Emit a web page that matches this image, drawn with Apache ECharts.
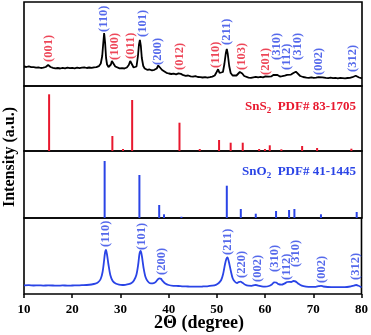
<!DOCTYPE html>
<html><head><meta charset="utf-8">
<script src="https://cdn.jsdelivr.net/npm/echarts@6/dist/echarts.min.js"></script>
<style>html,body{margin:0;padding:0;background:#fff}#c{width:371px;height:335px}</style>
</head><body><div id="c"></div>
<script>
// ---------- data ----------
const xTicks = [10, 20, 30, 40, 50, 60, 70, 80];

// top panel: measured XRD pattern (a.u.)
const topTheta = [10,10.5,11,11.5,12,12.5,13,13.5,14,14.5,14.8,15,15.2,15.5,16,16.5,17,17.5,18,18.5,19,19.5,20,20.5,21,21.5,22,22.5,23,23.5,24,24.5,25,25.5,25.9,26.2,26.4,26.6,26.8,27,27.2,27.5,27.8,28,28.2,28.4,28.6,28.9,29.3,29.8,30.3,30.8,31.3,31.7,32,32.2,32.4,32.7,33,33.3,33.6,33.8,34,34.2,34.4,34.7,35,35.5,36,36.5,37,37.5,37.8,38,38.2,38.6,39,39.5,40,40.5,41,41.5,42,42.2,42.5,43,43.5,44,44.5,45,45.5,46,46.5,47,47.5,48,48.5,49,49.5,49.9,50.2,50.5,50.8,51.2,51.5,51.8,52,52.2,52.5,52.8,53.2,53.6,54,54.4,54.7,54.9,55.2,55.6,56,56.5,57,57.5,58,58.5,59,59.5,60,60.3,60.7,61.2,61.7,62.1,62.5,63,63.5,64,64.5,64.9,65.3,65.8,66.3,66.7,67.2,67.8,68.5,69,69.5,70,70.5,71,71.4,71.8,72.5,73,73.5,74,74.5,75,75.5,76,76.5,77,77.5,78,78.4,78.7,79,79.4,80];
const topInt = [19.5,19.0,19.6,18.9,18.8,18.4,18.6,18.0,18.3,19.0,20.3,21.0,20.6,19.0,18.2,17.6,18.0,17.5,18.1,17.6,18.3,17.8,18.2,17.7,18.4,17.9,18.3,18.6,18.0,18.5,18.1,18.7,18.8,19.8,22.5,30,42,53,43,28,21.5,19,19.5,21.5,25,26,23,19.5,18.2,17.6,17.9,17.5,18.5,21,25,26,23.5,18.5,17,19.5,30,41,46,40,28,20,17.5,16.2,16.5,15.6,16.2,17.5,20.5,21,19.5,16,14,13.2,12.5,12.0,12.4,11.6,12.6,13.0,12.1,10.8,10.2,10.5,9.6,9.3,9.8,9.0,8.9,8.5,8.9,8.4,8.8,9.4,10.5,14,16.7,13,11.5,14,22,33,37,32,20,13,10.5,10,10.5,12,14,14.3,12.5,10,9,8.4,8.2,8.7,9.2,8.6,9.1,8.7,9.6,10.1,9.3,9.6,11.2,12.7,11,9.5,9.8,10.4,11.2,11.8,11.4,13,14.3,12.4,10,9,8.4,8.2,8.6,8.1,8.3,8.8,9.4,8.7,8.1,7.9,8.3,7.8,8.2,7.7,8.1,7.9,7.6,8.0,8.2,8.8,9.7,10.3,9.6,8.5,7.7];

// top panel peak labels
const topLabTheta = [15.2, 26.6, 28.8, 32.1, 34.6, 37.8, 42.3, 49.75, 52.0, 55.1, 60.1, 62.3, 64.5, 66.8, 71.1, 78.0];
const topLabLevel = [24, 54, 26, 27, 49, 21, 16, 18, 41, 16, 11, 26, 16, 26, 11, 14];
const topLabText = ['(001)','(110)','(100)','(011)','(101)','(200)','(012)','(110)','(211)','(103)','(201)','(310)','(112)','(310)','(002)','(312)'];
const topLabPhase = ['SnS2','SnO2','SnS2','SnS2','SnO2','SnO2','SnS2','SnS2','SnO2','SnS2','SnS2','SnO2','SnO2','SnO2','SnO2','SnO2'];

// SnS2 PDF# 83-1705 reference sticks
const sns2Theta = [15.2, 28.3, 30.5, 32.4, 42.2, 46.4, 50.4, 52.8, 55.3, 58.7, 59.9, 60.9, 63.3, 67.6, 70.7, 77.8];
const sns2Int = [56.7, 15, 2, 51, 28.3, 2, 11, 8.3, 8.3, 2, 2, 5.7, 1.7, 5, 3, 2.3];

// SnO2 PDF# 41-1445 reference sticks
const sno2Theta = [26.7, 33.9, 38.0, 39.0, 42.6, 52.0, 54.9, 58.0, 62.2, 64.9, 66.0, 71.5, 78.9];
const sno2Int = [57, 43, 13, 3.7, 1.3, 32.3, 9, 4.3, 7, 8, 9, 3.7, 6];

// bottom panel: measured XRD pattern (a.u.)
const botTheta = [10,11,12,13,14,15,16,17,18,19,20,21,22,23,24,24.8,25.4,25.9,26.3,26.6,26.8,27,27.2,27.5,27.9,28.4,29,29.7,30.4,31,31.7,32.3,32.8,33.3,33.7,33.95,34.2,34.45,34.8,35.2,35.7,36.3,36.9,37.4,37.8,38.1,38.4,38.8,39.3,40,41,42,43,44,45,46,47,48,49,49.8,50.4,50.9,51.3,51.7,52,52.2,52.5,52.9,53.3,53.8,54.2,54.5,54.9,55.3,55.9,56.5,57.2,57.8,58.1,58.6,59.3,60,60.8,61.4,61.9,62.3,62.8,63.4,64,64.6,65,65.4,65.9,66.3,66.9,67.6,68.5,69.5,70.5,71.1,71.6,72.1,73,74,75,76,77,77.8,78.4,78.9,79.4,80];
const botInt = [8.7,8.8,8.5,8.7,8.4,8.6,8.5,8.3,8.6,8.4,8.5,8.6,8.8,9.0,9.5,10.3,11.8,15,22,33,41,44,40,30,19,13,10.5,9.4,9.0,9.2,9.8,11,13.5,19,30,40,43,38,26,17,12.5,10.6,10.8,12.5,14.8,15.7,15.2,12.8,10.5,9.0,8.2,8.0,7.6,7.5,7.3,7.4,7.5,7.7,8.3,9.2,11,14,20,30,35.5,36.7,32,23,15.5,12,11,11.8,12.3,11.3,9.2,8.3,8.2,8.9,9.0,8.4,7.6,7.4,8.0,9.6,11.7,11.5,9.8,9.3,10.4,12.0,12.2,12.0,13.0,12.6,10.3,8.3,7.4,7.1,7.2,7.8,8.2,7.5,7.0,6.9,6.8,6.8,7.0,7.6,8.4,9.0,8.2,6.6];

// bottom panel peak labels
const botLabTheta = [27.0, 34.4, 38.5, 52.3, 55.1, 58.5, 62.0, 64.4, 66.3, 71.8, 78.9];
const botLabLevel = [47, 44, 19, 39, 16, 12, 22, 14, 27, 11, 14];
const botLabText = ['(110)','(101)','(200)','(211)','(220)','(002)','(310)','(112)','(310)','(002)','(312)'];

// ---------- styling ----------
const RED = '#e8182e';
const BLUE = '#2a44e6';
const SERIF = "'Liberation Serif','Times New Roman',serif";

const zip = (a, b) => a.map((v, i) => [v, b[i]]);

const grids = [
  {left: 24, right: 9, top: 2, height: 84},
  {left: 24, right: 9, top: 86, height: 65},
  {left: 24, right: 9, top: 151, height: 67},
  {left: 24, right: 9, top: 218, height: 76}
].map(g => Object.assign(g, {show: true, borderColor: '#000', borderWidth: 1.6, backgroundColor: 'transparent'}));

const yMax = [84, 65, 67, 76];

const xAxes = grids.map((g, i) => ({
  type: 'value', gridIndex: i, min: 10, max: 80, interval: 10,
  splitLine: {show: false},
  axisLine: {show: false},
  axisTick: {show: i === 3, inside: false, length: 4, lineStyle: {color: '#000', width: 1.5}},
  axisLabel: {show: i === 3, margin: 9, color: '#000', fontFamily: SERIF, fontWeight: 'bold', fontSize: 13,
              formatter: v => xTicks.includes(v) ? String(v) : ''}
}));
const yAxes = grids.map((g, i) => ({
  type: 'value', gridIndex: i, min: 0, max: yMax[i], show: false
}));

function labelSeries(gi, theta, level, text, colors) {
  return {
    type: 'scatter', xAxisIndex: gi, yAxisIndex: gi, symbolSize: 1,
    itemStyle: {color: 'rgba(0,0,0,0)'}, silent: true, z: 5,
    data: theta.map((t, i) => ({
      value: [t, level[i]], name: text[i],
      label: {color: colors[i]}
    })),
    label: {
      show: true, position: 'inside', rotate: 90, align: 'left', verticalAlign: 'middle',
      formatter: p => p.name, fontFamily: SERIF, fontWeight: 'bold', fontSize: 12.5
    }
  };
}

const option = {
  animation: false,
  grid: grids,
  xAxis: xAxes,
  yAxis: yAxes,
  series: [
    {type: 'line', xAxisIndex: 0, yAxisIndex: 0, data: zip(topTheta, topInt), symbol: 'none',
     lineStyle: {color: '#000', width: 1.8}},
    labelSeries(0, topLabTheta, topLabLevel, topLabText, topLabPhase.map(p => p === 'SnS2' ? RED : BLUE)),
    {type: 'bar', xAxisIndex: 1, yAxisIndex: 1, data: zip(sns2Theta, sns2Int), barWidth: 2,
     itemStyle: {color: RED}},
    {type: 'bar', xAxisIndex: 2, yAxisIndex: 2, data: zip(sno2Theta, sno2Int), barWidth: 2,
     itemStyle: {color: BLUE}},
    {type: 'line', xAxisIndex: 3, yAxisIndex: 3, data: zip(botTheta, botInt), symbol: 'none', smooth: 0.3,
     lineStyle: {color: BLUE, width: 1.8}},
    labelSeries(3, botLabTheta, botLabLevel, botLabText, botLabText.map(() => BLUE))
  ],
  graphic: [
    {type: 'text', right: 15, top: 100, style: {
      text: 'SnS{s|2}  PDF# 83-1705', fill: RED, font: "bold 13px " + SERIF,
      rich: {s: {fontSize: 9, fontWeight: 'bold', fontFamily: SERIF, fill: RED, padding: [8, 0, 0, 0]}}
    }},
    {type: 'text', right: 15, top: 165, style: {
      text: 'SnO{s|2}  PDF# 41-1445', fill: BLUE, font: "bold 13px " + SERIF,
      rich: {s: {fontSize: 9, fontWeight: 'bold', fontFamily: SERIF, fill: BLUE, padding: [8, 0, 0, 0]}}
    }},
    {type: 'text', x: 10, y: 157, rotation: Math.PI / 2, style: {
      text: 'Intensity (a.u.)', fill: '#000', font: "bold 16px " + SERIF,
      textAlign: 'center', textVerticalAlign: 'middle'
    }},
    {type: 'text', x: 199, y: 323, style: {
      text: '2Θ (degree)', fill: '#000', font: "bold 18px " + SERIF,
      textAlign: 'center', textVerticalAlign: 'middle'
    }}
  ]
};

const chart = echarts.init(document.getElementById('c'), null, {renderer: 'canvas'});
chart.setOption(option);
</script>
</body></html>
